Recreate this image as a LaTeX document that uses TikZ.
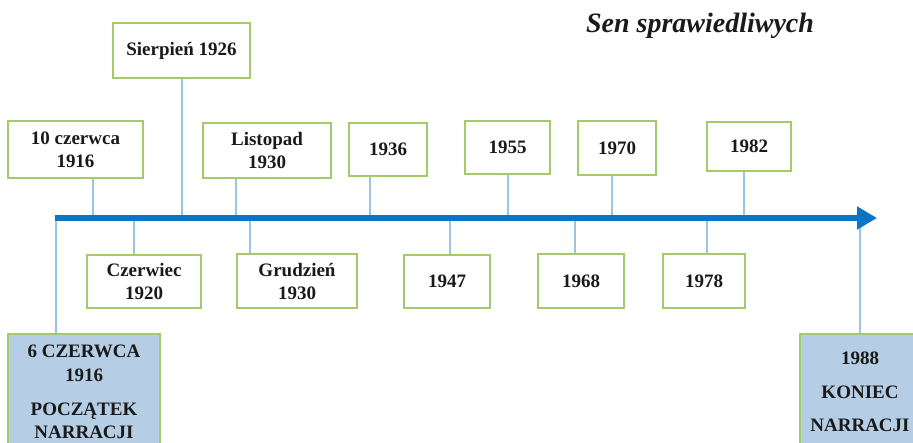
\documentclass[tikz,border=0pt]{standalone}
\usepackage{fontspec}
\setmainfont{Liberation Serif}
\usetikzlibrary{arrows.meta}
\definecolor{boxgreen}{HTML}{A3CB6A}
\definecolor{stemblue}{HTML}{9DC3E6}
\definecolor{axisblue}{HTML}{0B74C4}
\definecolor{fillblue}{HTML}{B6CEE5}
\definecolor{txt}{HTML}{1A1A1A}
\tikzset{
  datebox/.style={draw=boxgreen, line width=1.8pt, fill=white, inner sep=0pt,
    align=center, text=txt, font=\fontsize{19}{23}\selectfont\bfseries},
  endbox/.style={datebox, fill=fillblue},
  stem/.style={draw=stemblue, line width=1.5pt},
  axisline/.style={draw=axisblue, line width=5.5pt,
    -{Triangle[length=20pt,width=22pt]}},
}
\begin{document}
\begin{tikzpicture}[x=1pt,y=-1pt]
\useasboundingbox (0,0) rectangle (913,442);
\clip (0,0) rectangle (913,442);
% axis coordinates
\coordinate (axisL) at (55,218);
\coordinate (axisR) at (877,218);
\coordinate (t56) at (56,218);
\coordinate (t93) at (93,218);
\coordinate (t134) at (134,218);
\coordinate (t182) at (182,218);
\coordinate (t236) at (236,218);
\coordinate (t250) at (250,218);
\coordinate (t370) at (370,218);
\coordinate (t450) at (450,218);
\coordinate (t508) at (508,218);
\coordinate (t575) at (575,218);
\coordinate (t612) at (612,218);
\coordinate (t707) at (707,218);
\coordinate (t744) at (744,218);
\coordinate (t860) at (860,218);
% title
\node[text=txt, font=\fontsize{28}{32}\selectfont\bfseries\itshape] (title) at (700,26) {Sen sprawiedliwych};
% boxes above
\node[datebox, minimum width=137pt, minimum height=55pt] (s1926) at (181.5,50.5) {Sierpień 1926};
\node[datebox, minimum width=135pt, minimum height=57pt] (c1916) at (75.5,149.5) {10 czerwca\\1916};
\node[datebox, minimum width=128pt, minimum height=55pt] (l1930) at (267,150.5) {Listopad\\1930};
\node[datebox, minimum width=78pt, minimum height=53pt] (y1936) at (388,149.5) {1936};
\node[datebox, minimum width=85pt, minimum height=53pt] (y1955) at (507.5,147.5) {1955};
\node[datebox, minimum width=78pt, minimum height=54pt] (y1970) at (617,148) {1970};
\node[datebox, minimum width=84pt, minimum height=49pt] (y1982) at (749,146.5) {1982};
% boxes below
\node[datebox, minimum width=114pt, minimum height=53pt] (c1920) at (144,281.5) {Czerwiec\\1920};
\node[datebox, minimum width=120pt, minimum height=54pt] (g1930) at (297,281) {Grudzień\\1930};
\node[datebox, minimum width=86pt, minimum height=53pt] (y1947) at (447,281.5) {1947};
\node[datebox, minimum width=86pt, minimum height=54pt] (y1968) at (581,281) {1968};
\node[datebox, minimum width=82pt, minimum height=54pt] (y1978) at (704,281) {1978};
% end boxes
\node[endbox, minimum width=152pt, minimum height=116pt] (start) at (84,392) {6 CZERWCA\\[1pt]1916\\[11pt]POCZĄTEK\\[0pt]NARRACJI};
\node[endbox, minimum width=120pt, minimum height=116pt] (finish) at (860,392) {1988\\[11pt]KONIEC\\[10pt]NARRACJI};
% stems
\draw[stem] (t182) -- (t182 |- s1926.south);
\draw[stem] (t93) -- (t93 |- c1916.south);
\draw[stem] (t236) -- (t236 |- l1930.south);
\draw[stem] (t370) -- (t370 |- y1936.south);
\draw[stem] (t508) -- (t508 |- y1955.south);
\draw[stem] (t612) -- (t612 |- y1970.south);
\draw[stem] (t744) -- (t744 |- y1982.south);
\draw[stem] (t134) -- (t134 |- c1920.north);
\draw[stem] (t250) -- (t250 |- g1930.north);
\draw[stem] (t450) -- (t450 |- y1947.north);
\draw[stem] (t575) -- (t575 |- y1968.north);
\draw[stem] (t707) -- (t707 |- y1978.north);
\draw[stem] (t56) -- (t56 |- start.north);
\draw[stem] (t860) -- (finish.north);
% axis
\draw[axisline] (axisL) -- (axisR);
\end{tikzpicture}
\end{document}
